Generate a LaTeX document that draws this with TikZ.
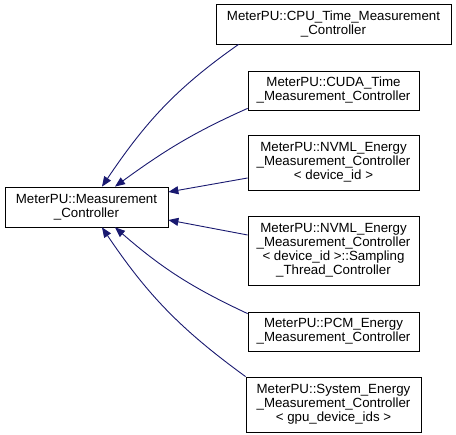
\documentclass[tikz,border=0pt]{standalone}
\usepackage{fontspec}
\setmainfont{Liberation Sans}
\usetikzlibrary{arrows.meta, calc}
\definecolor{edgeBlue}{RGB}{25,25,112}
\tikzstyle{classBox}     = [rectangle,
                            inner sep=0pt,
                            text centered,
                            align=center,
                            line width=0.8pt,
                            draw=black,
                            fill=white,
                            font=\fontsize{13.3}{14}\selectfont]
\tikzstyle{inheritArrow} = [line width=0.9pt, draw=edgeBlue,
                            -{Triangle[length=10pt, width=8pt]}]

\begin{document}
\begin{tikzpicture}[x=1pt, y=1pt]
\useasboundingbox (-86.5,207) rectangle (369.5,-228);

\node [classBox, minimum width=163pt, minimum height=40pt] (Base) at (0,0) {
    MeterPU::Measurement \\ \_Controller
    };

\node [classBox, minimum width=235pt, minimum height=40pt] (CPU)
    at ([shift={(247,183)}] Base) {
    MeterPU::CPU\_Time\_Measurement \\ \_Controller
    };
\node [classBox, minimum width=171pt, minimum height=39pt] (CUDA)
    at ([shift={(247,116.5)}] Base) {
    MeterPU::CUDA\_Time \\ \_Measurement\_Controller
    };
\node [classBox, minimum width=171pt, minimum height=55pt] (NVML)
    at ([shift={(247,44.5)}] Base) {
    MeterPU::NVML\_Energy \\ \_Measurement\_Controller \\ < device\_id >
    };
\node [classBox, minimum width=171pt, minimum height=69pt] (NVMLSampling)
    at ([shift={(247,-43.5)}] Base) {
    MeterPU::NVML\_Energy \\ \_Measurement\_Controller \\
    < device\_id >::Sampling \\ \_Thread\_Controller
    };
\node [classBox, minimum width=171pt, minimum height=39pt] (PCM)
    at ([shift={(247,-124.5)}] Base) {
    MeterPU::PCM\_Energy \\ \_Measurement\_Controller
    };
\node [classBox, minimum width=175pt, minimum height=55pt] (System)
    at ([shift={(247,-197.5)}] Base) {
    MeterPU::System\_Energy \\ \_Measurement\_Controller \\ < gpu\_device\_ids >
    };

% inheritance edges, all ending at the base class
\draw [inheritArrow] ([xshift=23pt]CPU.south west)
    to[out=215, in=56] ([xshift=15.5pt]Base.north);
\draw [inheritArrow] ([yshift=2pt]CUDA.south west)
    to[out=204, in=36] ([xshift=28.5pt]Base.north);
\draw [inheritArrow] ([yshift=-15.5pt]NVML.west) -- ([yshift=15pt]Base.east);
\draw [inheritArrow] ([yshift=15.5pt]NVMLSampling.west) -- ([yshift=-13pt]Base.east);
\draw [inheritArrow] ([yshift=-2pt]PCM.north west)
    to[out=155, in=-41] ([xshift=28.5pt]Base.south);
\draw [inheritArrow] (System.north west)
    to[out=144, in=-56] ([xshift=15.5pt]Base.south);

\end{tikzpicture}
\end{document}
